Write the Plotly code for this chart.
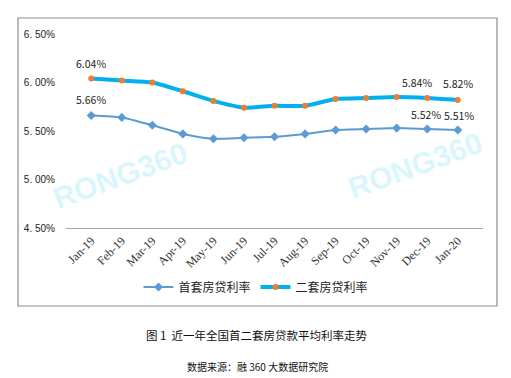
import plotly.graph_objects as go

months = ["Jan-19", "Feb-19", "Mar-19", "Apr-19", "May-19", "Jun-19", "Jul-19",
          "Aug-19", "Sep-19", "Oct-19", "Nov-19", "Dec-19", "Jan-20"]
first_home = [5.66, 5.64, 5.56, 5.47, 5.42, 5.43, 5.44, 5.47, 5.51, 5.52, 5.53, 5.52, 5.51]
second_home = [6.04, 6.02, 6.00, 5.91, 5.81, 5.74, 5.76, 5.76, 5.83, 5.84, 5.85, 5.84, 5.82]
y_ticks = [4.5, 5.0, 5.5, 6.0, 6.5]
y_tick_text = ["4. 50%", "5. 00%", "5. 50%", "6. 00%", "6. 50%"]
series_names = ["首套房贷利率", "二套房贷利率"]

# page body has an 8px default margin; figure coordinates compensate for it
OFF = 8
PLOT_L, PLOT_R, PLOT_T, PLOT_B = 66, 483, 34, 228
PW, PH = PLOT_R - PLOT_L, PLOT_B - PLOT_T


def px_x(x):
    return (x - PLOT_L) / PW


def px_y(y):
    return (PLOT_B - y) / PH


fig = go.Figure()
fig.add_trace(go.Scatter(
    x=months, y=first_home, name=series_names[0], mode="lines+markers",
    line=dict(color="#5B9BD5", width=2, shape="spline", smoothing=0.6),
    marker=dict(symbol="diamond", size=7, color="#5B9BD5"),
))
fig.add_trace(go.Scatter(
    x=months, y=second_home, name=series_names[1], mode="lines+markers",
    line=dict(color="#00B0F0", width=4, shape="spline", smoothing=0.6),
    marker=dict(symbol="circle", size=6, color="#ED7D31"),
))

label_font = dict(family="Noto Sans CJK SC, Liberation Sans", size=10.5, color="#222222")
labels = [
    (0, second_home, 15, 0),
    (0, first_home, 16, 0),
    (11, second_home, 16, -10),
    (12, second_home, 16, 0),
    (11, first_home, 15, -1),
    (12, first_home, 15, 1),
]
for i, series, ys, xs in labels:
    fig.add_annotation(x=months[i], y=series[i], text=f"{series[i]:.2f}%",
                       showarrow=False, yshift=ys, xshift=xs, font=label_font)

# Watermarks
for xc, yc in [(120, 175), (415, 165)]:
    fig.add_annotation(xref="paper", yref="paper", x=px_x(xc), y=px_y(yc), text="<b>RONG360</b>",
                       showarrow=False, textangle=-20, xanchor="center", yanchor="middle",
                       font=dict(family="Liberation Sans", size=30, color="rgba(180,238,252,0.5)"))

# Caption texts
fig.add_annotation(xref="paper", yref="paper", x=px_x(257), y=px_y(335),
                   text="图 1  近一年全国首二套房贷款平均利率走势", showarrow=False,
                   xanchor="center", yanchor="middle",
                   font=dict(family="Noto Sans CJK SC", size=11.5, color="#111111"))
fig.add_annotation(xref="paper", yref="paper", x=px_x(257), y=px_y(366),
                   text="数据来源：融 360 大数据研究院", showarrow=False,
                   xanchor="center", yanchor="middle",
                   font=dict(family="Noto Sans CJK SC", size=10, color="#111111"))

# Chart border
fig.add_shape(type="rect", xref="paper", yref="paper",
              x0=px_x(18), x1=px_x(497), y0=px_y(306), y1=px_y(18),
              line=dict(color="#8C8C8C", width=1.2), fillcolor="rgba(0,0,0,0)", layer="below")

fig.update_layout(
    width=511 - OFF, height=378 - OFF,
    margin=dict(l=PLOT_L - OFF, r=511 - PLOT_R, t=PLOT_T - OFF, b=378 - PLOT_B),
    paper_bgcolor="white", plot_bgcolor="white",
    showlegend=True,
    legend=dict(orientation="h", x=px_x(256), xanchor="center", y=px_y(287), yanchor="middle",
                font=dict(family="Noto Sans CJK SC", size=12, color="#222222"),
                tracegroupgap=0),
    xaxis=dict(showgrid=False, showline=True, linecolor="#A6A6A6", linewidth=1,
               tickangle=-45, ticks="", zeroline=False,
               tickfont=dict(family="Liberation Serif", size=12, color="#333333")),
    yaxis=dict(range=[4.5, 6.5], tickvals=y_ticks, ticktext=y_tick_text, showgrid=False,
               showline=False, zeroline=False, ticks="", ticklabelstandoff=10,
               tickfont=dict(family="Liberation Sans", size=10, color="#222222")),
)

fig.write_html("out.html")
